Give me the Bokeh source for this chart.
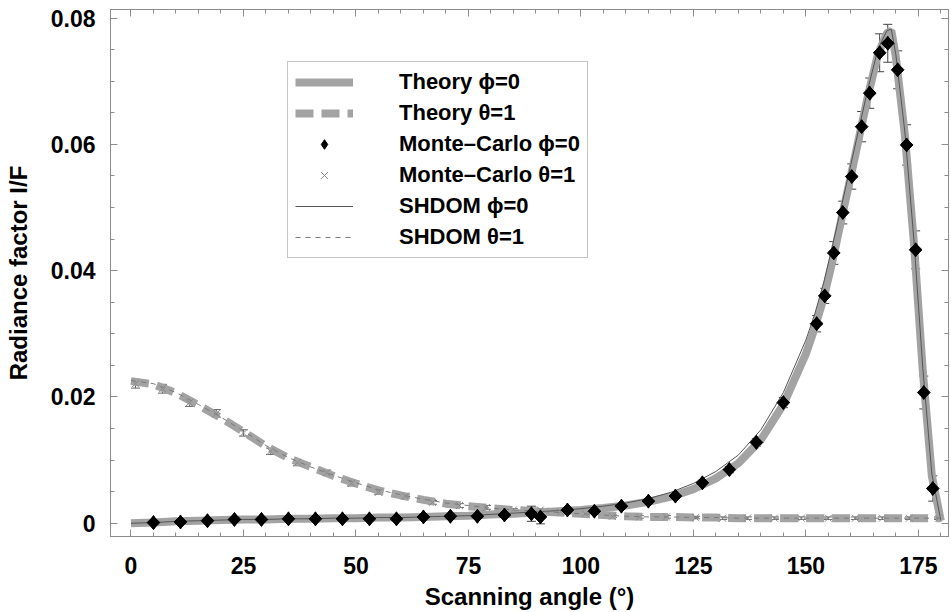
import math
from bokeh.plotting import figure
from bokeh.models import (ColumnDataSource, Whisker, TeeHead, Legend, LegendItem,
                          LinearAxis, FixedTicker, CustomJSTickFormatter, Range1d)
from bokeh.embed import file_html
from bokeh.resources import INLINE

# ---------------- data ----------------
theory_angle = [0, 5, 10, 15, 20, 25, 30, 35, 40, 45, 50, 55, 60, 65, 70, 75, 80, 85, 90, 95,
                100, 105, 110, 115, 120, 125, 130, 135, 140, 145, 150, 152, 154, 156, 158, 160,
                162, 164, 166, 168, 169, 170, 172, 174, 176, 178, 180]
theory_phi0 = [0.0000, 0.0001, 0.0003, 0.0004, 0.0005, 0.0006, 0.0006, 0.0007, 0.0007, 0.0008,
               0.0008, 0.0009, 0.0009, 0.0010, 0.0011, 0.0012, 0.0014, 0.0015, 0.0017, 0.0019,
               0.0021, 0.0024, 0.0028, 0.0034, 0.0042, 0.0054, 0.0071, 0.0095, 0.0132, 0.0188,
               0.0268, 0.0310, 0.0358, 0.0418, 0.0485, 0.0550, 0.0617, 0.0683, 0.0742, 0.0776,
               0.0780, 0.0738, 0.0615, 0.0445, 0.0240, 0.0075, 0.0004]
theory_theta1 = [0.0225, 0.0220, 0.0206, 0.0187, 0.0167, 0.0145, 0.0122, 0.0103, 0.0089, 0.0075,
                 0.0063, 0.0052, 0.0044, 0.0037, 0.0031, 0.0027, 0.0024, 0.0021, 0.0019, 0.0017,
                 0.0015, 0.0013, 0.0011, 0.0010, 0.0010, 0.0009, 0.0009, 0.0008, 0.0008, 0.0008,
                 0.0008, 0.0008, 0.0008, 0.0008, 0.0008, 0.0008, 0.0008, 0.0008, 0.0008, 0.0008,
                 0.0008, 0.0008, 0.0008, 0.0008, 0.0008, 0.0008, 0.0008]

shdom_phi0 = [0.0000, 0.0001, 0.0003, 0.0004, 0.0005, 0.0006, 0.0006, 0.0007, 0.0007, 0.0008,
              0.0008, 0.0009, 0.0009, 0.0010, 0.0011, 0.0012, 0.0014, 0.0016, 0.0018, 0.0020,
              0.0023, 0.0027, 0.0032, 0.0039, 0.0049, 0.0063, 0.0082, 0.0108, 0.0148, 0.0207,
              0.0290, 0.0332, 0.0382, 0.0442, 0.0505, 0.0568, 0.0632, 0.0694, 0.0750, 0.0780,
              0.0782, 0.0742, 0.0620, 0.0450, 0.0245, 0.0078, 0.0004]
shdom_theta1 = [0.0226, 0.0221, 0.0207, 0.0188, 0.0168, 0.0146, 0.0123, 0.0104, 0.0089, 0.0076,
                0.0064, 0.0053, 0.0045, 0.0038, 0.0032, 0.0028, 0.0024, 0.0021, 0.0019, 0.0017,
                0.0015, 0.0013, 0.0011, 0.0010, 0.0010, 0.0009, 0.0009, 0.0008, 0.0008, 0.0008,
                0.0008, 0.0008, 0.0008, 0.0008, 0.0008, 0.0008, 0.0008, 0.0008, 0.0008, 0.0008,
                0.0008, 0.0008, 0.0008, 0.0008, 0.0008, 0.0008, 0.0008]

mc_phi0_angle = [5, 11, 17, 23, 29, 35, 41, 47, 53, 59, 65, 71, 77, 83, 89, 91, 97, 103, 109,
                 115, 121, 127, 133, 139, 145, 152.4, 154.2, 156.2, 158.2, 160.2, 162.4, 164.2,
                 166.4, 168.2, 170.4, 172.4, 174.4, 176.2, 178.2]
mc_phi0 = [0.0001, 0.0002, 0.0004, 0.0006, 0.0006, 0.0007, 0.0007, 0.0007, 0.0007, 0.0007,
           0.0010, 0.0011, 0.0011, 0.0013, 0.0015, 0.0010, 0.0021, 0.0019, 0.0027, 0.0035,
           0.0043, 0.0064, 0.0085, 0.0128, 0.0191, 0.0316, 0.0360, 0.0428, 0.0492, 0.0549,
           0.0628, 0.0681, 0.0745, 0.0760, 0.0718, 0.0599, 0.0433, 0.0207, 0.0055]
mc_phi0_err = [0.0002, 0.0002, 0.0002, 0.0002, 0.0002, 0.0002, 0.0002, 0.0002, 0.0002, 0.0002,
               0.0002, 0.0002, 0.0002, 0.0003, 0.0012, 0.0011, 0.0003, 0.0003, 0.0003, 0.0003,
               0.0003, 0.0004, 0.0005, 0.0006, 0.0008, 0.0013, 0.0012, 0.0018, 0.0018, 0.0020,
               0.0024, 0.0024, 0.0030, 0.0030, 0.0030, 0.0032, 0.0030, 0.0026, 0.0020]

mc_theta1_angle = [1, 7, 13, 19, 25, 31, 37, 43.5, 49, 55, 61, 67, 73, 79, 85, 91, 95.5, 101,
                   107, 113, 119, 125.5, 131.5, 137, 143, 149, 155, 161, 167, 173, 179.5]
mc_theta1 = [0.0221, 0.0213, 0.0191, 0.0174, 0.0143, 0.0114, 0.0096, 0.0080, 0.0063, 0.0049,
             0.0043, 0.0033, 0.0028, 0.0025, 0.0021, 0.0021, 0.0018, 0.0015, 0.0011, 0.0010,
             0.0010, 0.0009, 0.0008, 0.0008, 0.0008, 0.0008, 0.0008, 0.0008, 0.0008, 0.0008,
             0.0008]
mc_theta1_err = [0.0007, 0.0007, 0.0006, 0.0006, 0.0005, 0.0005, 0.0005, 0.0004, 0.0004, 0.0003,
                 0.0003, 0.0003, 0.0003, 0.0003, 0.0002, 0.0002, 0.0002, 0.0002, 0.0002, 0.0002,
                 0.0002, 0.0002, 0.0002, 0.0002, 0.0002, 0.0002, 0.0002, 0.0002, 0.0002, 0.0002,
                 0.0002]

x_ticks = [0, 25, 50, 75, 100, 125, 150, 175]
x_minor = [v for v in range(-5, 185, 5) if v % 25 != 0]
y_ticks = [0, 0.02, 0.04, 0.06, 0.08]
y_minor = [0.005, 0.010, 0.015, 0.025, 0.030, 0.035, 0.045, 0.050, 0.055, 0.065, 0.070, 0.075]

# ---------------- figure ----------------
FONT = "Liberation Sans"
GRAY = "#a3a3a3"
AX = "#8c8c8c"

p = figure(width=951, height=612, output_backend="svg", toolbar_location=None,
           x_range=Range1d(-4.55, 181.7), y_range=Range1d(-0.0021, 0.08135),
           min_border_left=110, min_border_right=3, min_border_top=9, min_border_bottom=76)
p.grid.visible = False
p.outline_line_color = AX
p.outline_line_width = 1
p.background_fill_color = "white"
p.border_fill_color = "white"

def base_axis(ax):
    ax.axis_line_color = AX
    ax.major_tick_line_color = AX
    ax.minor_tick_line_color = AX
    ax.major_tick_out = 0
    ax.minor_tick_out = 0

# main (labelled) axes
xa = p.xaxis[0]
ya = p.yaxis[0]
xa.ticker = FixedTicker(ticks=x_ticks, minor_ticks=x_minor)
ya.ticker = FixedTicker(ticks=y_ticks, minor_ticks=y_minor)
for ax in (xa, ya):
    base_axis(ax)
    ax.major_tick_in = 7
    ax.minor_tick_in = 4
    ax.major_label_text_font = FONT
    ax.major_label_text_font_style = "bold"
    ax.major_label_text_font_size = "23px"
    ax.major_label_text_color = "black"
    ax.axis_label_text_font = FONT
    ax.axis_label_text_font_style = "bold"
    ax.axis_label_text_font_size = "24px"
    ax.axis_label_text_color = "black"
xa.axis_label = "Scanning angle (°)"
ya.axis_label = "Radiance factor I/F"
xa.major_label_standoff = 20
xa.axis_label_standoff = 6
ya.major_label_standoff = 15
ya.axis_label_standoff = 16
ya.formatter = CustomJSTickFormatter(code="return tick == 0 ? '0' : tick.toFixed(2);")
xa.formatter = CustomJSTickFormatter(code="return tick.toFixed(0);")

# mirrored tick marks (no labels): major positions drawn as longer minor ticks
for loc, majors, minors in (("above", x_ticks, x_minor), ("right", y_ticks, y_minor)):
    a1 = LinearAxis(ticker=FixedTicker(ticks=[], minor_ticks=majors))
    base_axis(a1)
    a1.minor_tick_in = 7
    p.add_layout(a1, loc)
    a2 = LinearAxis(ticker=FixedTicker(ticks=[], minor_ticks=minors))
    base_axis(a2)
    a2.minor_tick_in = 4
    a2.axis_line_alpha = 0
    p.add_layout(a2, loc)

# ---------------- glyphs ----------------
th_src = ColumnDataSource(dict(x=theory_angle, phi0=theory_phi0, theta1=theory_theta1,
                               s_phi0=shdom_phi0, s_theta1=shdom_theta1))
r_th0 = p.line("x", "phi0", source=th_src, line_color=GRAY, line_width=8)
r_th1 = p.line("x", "theta1", source=th_src, line_color=GRAY, line_width=8, line_dash="18 8")
r_sh0 = p.line("x", "s_phi0", source=th_src, line_color="#555555", line_width=1)
r_sh1 = p.line("x", "s_theta1", source=th_src, line_color="#7a7a7a", line_width=1, line_dash="5 5")

mc0 = ColumnDataSource(dict(x=mc_phi0_angle, y=mc_phi0,
                            lo=[v - e for v, e in zip(mc_phi0, mc_phi0_err)],
                            hi=[v + e for v, e in zip(mc_phi0, mc_phi0_err)]))
mc1 = ColumnDataSource(dict(x=mc_theta1_angle, y=mc_theta1,
                            lo=[v - e for v, e in zip(mc_theta1, mc_theta1_err)],
                            hi=[v + e for v, e in zip(mc_theta1, mc_theta1_err)]))

for src, col in ((mc1, "#666666"), (mc0, "#444444")):
    w = Whisker(base="x", lower="lo", upper="hi", source=src, line_color=col, line_width=1,
                upper_head=TeeHead(size=9, line_color=col, line_width=1),
                lower_head=TeeHead(size=9, line_color=col, line_width=1))
    p.add_layout(w)

r_mc1 = p.scatter("x", "y", source=mc1, marker="x", size=10, line_color="#8a8a8a", line_width=1)
# diamond (used for the legend) with a rotated square on top to widen the shape
r_mc0 = p.scatter("x", "y", source=mc0, marker="diamond", size=14,
                  fill_color="black", line_color="black")
p.scatter("x", "y", source=mc0, marker="square", angle=math.pi / 4, size=9,
          fill_color="black", line_color="black")

legend = Legend(items=[
    LegendItem(label="Theory \u03d5=0", renderers=[r_th0]),
    LegendItem(label="Theory \u03b8=1", renderers=[r_th1]),
    LegendItem(label="Monte\u2013Carlo \u03d5=0", renderers=[r_mc0]),
    LegendItem(label="Monte\u2013Carlo \u03b8=1", renderers=[r_mc1]),
    LegendItem(label="SHDOM \u03d5=0", renderers=[r_sh0]),
    LegendItem(label="SHDOM \u03b8=1", renderers=[r_sh1]),
], location=(177, 278))
legend.label_text_font = FONT
legend.label_text_font_style = "bold"
legend.label_text_font_size = "22px"
legend.label_text_color = "black"
legend.glyph_width = 58
legend.glyph_height = 24
legend.label_height = 24
legend.label_standoff = 46
legend.spacing = 5
legend.padding = 7
legend.margin = 0
legend.border_line_color = AX
legend.border_line_width = 1
legend.background_fill_alpha = 1
p.add_layout(legend)

open("out.html", "w").write(file_html(p, INLINE))
